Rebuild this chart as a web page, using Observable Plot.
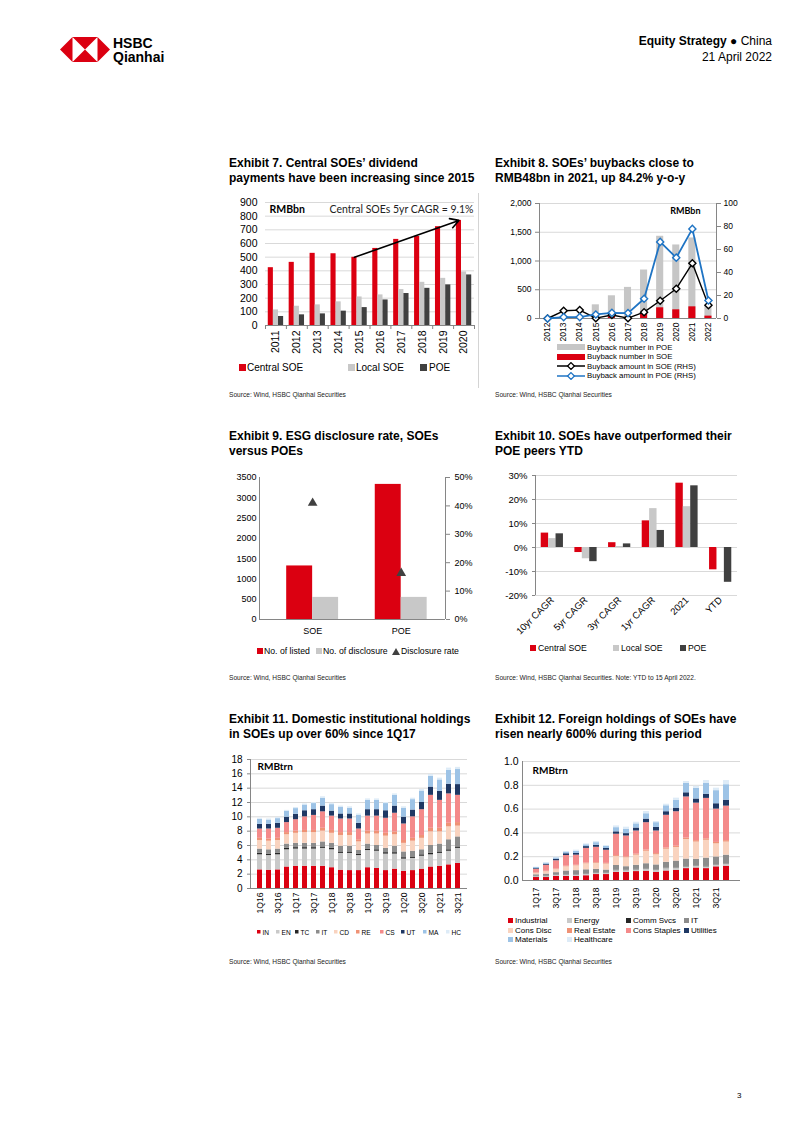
<!DOCTYPE html>
<html><head><meta charset="utf-8"><title>HSBC Qianhai – Equity Strategy China</title>
<script src="https://cdn.jsdelivr.net/npm/d3@7"></script>
<script src="https://cdn.jsdelivr.net/npm/@observablehq/plot@0.6"></script>
<style>
 html,body{margin:0;padding:0;background:#fff;}
 #page{position:relative;width:802px;height:1133px;overflow:hidden;background:#fff;font-family:"Liberation Sans",Arial,Helvetica,sans-serif;color:#000;}
 .title{position:absolute;font-weight:bold;font-size:12px;line-height:15px;white-space:nowrap;}
 .source{position:absolute;font-size:6.6px;line-height:8px;color:#222;white-space:nowrap;}
 .lg{position:absolute;display:flex;align-items:center;white-space:nowrap;height:12px;}
 .lg svg{display:block;flex:none;}
</style></head>
<body><div id="page"></div>
<script>
// ---------------- DATA ----------------
// Exhibit 7 (RMBbn)
const years7 = ["2011","2012","2013","2014","2015","2016","2017","2018","2019","2020"];
const central7 = [423, 462, 528, 525, 499, 564, 630, 652, 723, 769];
const local7   = [114, 141, 151, 173, 209, 224, 263, 316, 345, 392];
const poe7     = [66, 78, 85, 105, 131, 187, 234, 272, 297, 370];
const ticks7   = [0,100,200,300,400,500,600,700,800,900];
const note7    = "Central SOEs 5yr CAGR = 9.1%";

// Exhibit 8
const years8  = ["2012","2013","2014","2015","2016","2017","2018","2019","2020","2021","2022"];
const poeNum8 = [0, 0, 0, 238, 395, 541, 843, 1430, 1279, 1401, 230];
const soeNum8 = [0, 0, 0, 6, 30, 10, 99, 186, 151, 203, 41];
const soeAmt8 = [0, 6.7, 7.3, 0.3, 3.0, 0.3, 5.5, 15.4, 25.9, 48.0, 11.6];
const poeAmt8 = [0, 1.2, 1.2, 3.5, 4.9, 4.7, 17.2, 66.6, 52.9, 77.9, 15.7];
const leftTicks8  = [0, 500, 1000, 1500, 2000];
const rightTicks8 = [0, 20, 40, 60, 80, 100];

// Exhibit 9
const cats9      = ["SOE", "POE"];
const listed9    = [1320, 3330];
const disclosed9 = [545, 545];
const rate9      = [0.41, 0.163];
const ticks9     = [0,500,1000,1500,2000,2500,3000,3500];
const pctTicks9  = [0, 0.1, 0.2, 0.3, 0.4, 0.5];

// Exhibit 10
const cats10    = ["10yr CAGR", "5yr CAGR", "3yr CAGR", "1yr CAGR", "2021", "YTD"];
const central10 = [0.060, -0.021, 0.020, 0.111, 0.268, -0.093];
const local10   = [0.037, -0.047, 0.004, 0.162, 0.170, -0.003];
const poe10     = [0.057, -0.059, 0.015, 0.071, 0.257, -0.145];
const ticks10   = [-0.2, -0.1, 0, 0.1, 0.2, 0.3];

// Exhibit 11 (RMBtrn), 1Q16..3Q21
const quarters11 = ["1Q16","2Q16","3Q16","4Q16","1Q17","2Q17","3Q17","4Q17","1Q18","2Q18","3Q18","4Q18","1Q19","2Q19","3Q19","4Q19","1Q20","2Q20","3Q20","4Q20","1Q21","2Q21","3Q21"];
const sectors11 = ["IN","EN","TC","IT","CD","RE","CS","UT","MA","HC"];
const in11 = [2.6,2.55,2.6,3.0,3.1,3.1,3.1,3.1,2.9,2.55,2.5,2.5,2.9,2.8,2.5,2.7,2.4,2.5,2.7,3.0,3.1,3.3,3.5];
const en11 = [2.1,2.05,2.1,2.4,2.4,2.4,2.4,2.5,2.5,2.35,2.4,2.1,2.4,2.4,2.3,2.1,1.7,1.7,1.8,1.7,1.8,1.9,2.1];
const tc11 = [0.2,0.2,0.2,0.2,0.2,0.2,0.2,0.2,0.2,0.2,0.2,0.2,0.2,0.2,0.2,0.2,0.2,0.2,0.2,0.2,0.2,0.2,0.2];
const it11 = [0.6,0.6,0.6,0.6,0.6,0.6,0.6,0.7,0.7,0.8,0.8,0.5,0.7,0.6,0.6,0.9,0.8,0.8,0.7,1.1,1.1,1.4,1.4];
const cd11 = [1.2,1.2,1.2,1.3,1.4,1.5,1.5,1.5,1.4,1.5,1.5,1.2,1.4,1.6,1.7,1.6,1.2,1.4,1.6,1.9,1.7,1.8,1.5];
const re11 = [0.3,0.3,0.3,0.3,0.3,0.3,0.3,0.4,0.4,0.4,0.4,0.3,0.4,0.4,0.4,0.4,0.4,0.4,0.4,0.5,0.5,0.5,0.5];
const cs11 = [1.3,1.4,1.4,1.4,1.6,1.9,2.1,2.3,2.0,1.9,1.9,1.5,2.1,2.1,2.1,2.6,2.3,3.0,3.6,4.6,3.9,4.1,3.8];
const ut11 = [0.65,0.65,0.7,0.75,0.75,0.85,0.8,0.8,0.7,0.7,0.7,0.8,0.9,0.9,1.05,1.0,0.95,0.95,1.0,1.15,1.25,1.35,1.5];
const ma11 = [0.7,0.6,0.65,0.8,0.8,0.8,0.85,1.1,0.9,0.9,0.8,1.1,1.3,1.3,1.0,1.5,1.25,1.45,1.6,1.5,1.6,1.95,2.1];
const hc11 = [0.15,0.15,0.15,0.15,0.15,0.15,0.15,0.2,0.2,0.2,0.2,0.2,0.2,0.2,0.15,0.2,0.2,0.2,0.2,0.25,0.25,0.3,0.3];
const ticks11 = [0,2,4,6,8,10,12,14,16,18];

// Exhibit 12 (RMBtrn), 1Q17..4Q21
const quarters12 = ["1Q17","2Q17","3Q17","4Q17","1Q18","2Q18","3Q18","4Q18","1Q19","2Q19","3Q19","4Q19","1Q20","2Q20","3Q20","4Q20","1Q21","2Q21","3Q21","4Q21"];
const sectors12 = ["Industrial","Energy","Comm Svcs","IT","Cons Disc","Real Estate","Cons Staples","Utilities","Materials","Healthcare"];
const ind12 = [.025,.025,.035,.035,.035,.040,.050,.050,.068,.068,.075,.078,.068,.080,.085,.100,.105,.100,.115,.120];
const ene12 = [.008,.008,.008,.010,.010,.012,.010,.010,.015,.015,.015,.020,.020,.020,.020,.012,.015,.015,.015,.020];
const com12 = [.003,.003,.003,.003,.003,.003,.003,.003,.003,.003,.003,.003,.003,.003,.003,.003,.003,.003,.003,.003];
const it12  = [.012,.018,.020,.032,.035,.035,.030,.025,.040,.030,.035,.040,.040,.050,.055,.065,.055,.070,.065,.070];
const cdi12 = [.012,.020,.025,.035,.040,.050,.050,.050,.075,.075,.085,.105,.085,.110,.115,.165,.145,.150,.110,.110];
const rea12 = [.004,.004,.005,.005,.005,.006,.006,.006,.008,.008,.008,.010,.010,.010,.010,.012,.012,.012,.012,.012];
const cst12 = [.030,.050,.070,.090,.085,.124,.130,.110,.180,.175,.195,.230,.190,.275,.290,.345,.315,.340,.280,.290];
const uti12 = [.006,.008,.012,.015,.014,.015,.017,.015,.020,.020,.025,.030,.030,.030,.030,.035,.035,.035,.045,.050];
const mat12 = [.009,.010,.012,.014,.018,.015,.022,.018,.035,.035,.035,.045,.040,.050,.065,.080,.090,.090,.110,.130];
const hea12 = [.003,.005,.006,.005,.010,.008,.010,.007,.015,.019,.014,.019,.010,.013,.019,.015,.016,.025,.021,.035];
const ticks12 = [0, 0.2, 0.4, 0.6, 0.8, 1.0];

// ---------------- STYLE ----------------
const FONT = '"Liberation Sans", Arial, Helvetica, sans-serif';
const CAL = 'Lato, "Open Sans", sans-serif';
const RED = "#DB0011", LGREY = "#C8C8C8", DGREY = "#404040", GRID = "#D9D9D9", AXIS = "#868686", BLUE = "#1F74C4";
const colors11 = [RED, "#C9C9C9", "#262626", "#8C8C8C", "#F9D3BF", "#EF9275", "#F48A8A", "#1F3864", "#9DC3E6", "#DDEBF7"];

const page = document.getElementById("page");
function place(node, left, top) {
  node.style.position = "absolute"; node.style.left = left + "px"; node.style.top = top + "px";
  page.appendChild(node); return node;
}
function html(h, left, top, cls, css) {
  const d = document.createElement("div"); if (cls) d.className = cls; d.innerHTML = h;
  if (css) d.style.cssText = css; return place(d, left, top);
}
function st(fs) { return {fontFamily: FONT, fontSize: fs + "px", background: "transparent", overflow: "visible", color: "#000"}; }
const sq = (c, w, h) => `<svg width="${w}" height="${h || w}"><rect width="${w}" height="${h || w}" fill="${c}"/></svg>`;
const lineSw = c => `<svg width="28" height="8"><line x1="0" y1="4" x2="28" y2="4" stroke="${c}" stroke-width="1.5"/><path d="M14,0.6 L17.4,4 L14,7.4 L10.6,4Z" fill="#fff" stroke="${c}" stroke-width="1.3"/></svg>`;
const triSw = c => `<svg width="8" height="7"><path d="M4,0 L8,7 L0,7Z" fill="${c}"/></svg>`;
function lg(x, cy, sw, label, fs, gap) {
  const d = document.createElement("div"); d.className = "lg";
  d.style.left = x + "px"; d.style.top = (cy - 6) + "px"; d.style.fontSize = fs + "px";
  d.innerHTML = sw + `<span style="margin-left:${gap}px">${label}</span>`;
  page.appendChild(d);
}

// ---------------- HEADER ----------------
html(`<svg width="50" height="25" viewBox="0 0 50 25">
  <polygon points="0,12.5 12.5,0 37.5,0 50,12.5 37.5,25 12.5,25" fill="${RED}"/>
  <polygon points="12.5,0 25,12.5 12.5,25" fill="#fff"/>
  <polygon points="37.5,0 25,12.5 37.5,25" fill="#fff"/></svg>`, 60, 37, null, "line-height:0");
html("HSBC<br>Qianhai", 113, 36, null, "font-weight:bold;font-size:14px;line-height:14px;");
html(`<div style="text-align:right"><b>Equity Strategy</b> ● China<br>21 April 2022</div>`, 572, 33, null, "width:200px;font-size:12px;line-height:16px;");
html("3", 737, 1091, null, "font-size:8px;");

// ---------------- TITLES & SOURCES ----------------
const SRC = "Source: Wind, HSBC Qianhai Securities";
html("Exhibit 7. Central SOEs’ dividend<br>payments have been increasing since 2015", 229, 156, "title");
html("Exhibit 8. SOEs’ buybacks close to<br>RMB48bn in 2021, up 84.2% y-o-y", 495, 156, "title");
html("Exhibit 9. ESG disclosure rate, SOEs<br>versus POEs", 229, 429, "title");
html("Exhibit 10. SOEs have outperformed their<br>POE peers YTD", 495, 429, "title");
html("Exhibit 11. Domestic institutional holdings<br>in SOEs up over 60% since 1Q17", 229, 712, "title");
html("Exhibit 12. Foreign holdings of SOEs have<br>risen nearly 600% during this period", 495, 712, "title");
html(SRC, 229, 391, "source");
html(SRC, 495, 391, "source");
html(SRC, 229, 674, "source");
html(SRC + ". Note: YTD to 15 April 2022.", 495, 674, "source");
html(SRC, 229, 958, "source");
html(SRC, 495, 958, "source");
html("", 478, 193, null, "width:1px;height:195px;background:#D4D4D4;");

// ---------------- EXHIBIT 7 ----------------
{
  const n = years7.length, G = 0.245, idx = d3.range(n);
  const series = [[central7, RED], [local7, LGREY], [poe7, DGREY]];
  const i15 = years7.indexOf("2015"), i20 = years7.indexOf("2020");
  const arrow7 = [{x1: i15 - G, y1: central7[i15], x2: i20 - G, y2: central7[i20]}];
  place(Plot.plot({
    width: 252, height: 165, marginLeft: 37, marginRight: 6, marginTop: 7, marginBottom: 35,
    style: st(10.5),
    x: {domain: [-0.5, n - 0.5]},
    y: {domain: [0, 900]},
    marks: [
      Plot.ruleY(ticks7.filter(t => t > 0), {stroke: GRID}),
      ...series.map(([vals, color], k) => Plot.rect(idx, {x1: i => i + (k - 1.5) * G, x2: i => i + (k - 0.5) * G, y1: 0, y2: i => vals[i], fill: color})),
      Plot.ruleY([0], {stroke: AXIS}),
      Plot.ruleX(d3.range(n + 1).map(i => i - 0.5), {y1: 0, y2: 0, insetBottom: -4, stroke: AXIS}),
      Plot.arrow(arrow7, {x1: "x1", y1: "y1", x2: "x2", y2: "y2", stroke: "#000", strokeWidth: 1.6, headLength: 9}),
      Plot.axisY({ticks: ticks7, tickFormat: d => String(d), tickSize: 0, tickPadding: 8, label: null}),
      Plot.axisX({ticks: idx, tickFormat: i => years7[i], tickRotate: -90, tickSize: 0, tickPadding: 5, label: null}),
      Plot.text(["RMBbn"], {text: d => d, frameAnchor: "top-left", dx: 4, dy: 3, fontWeight: "bold", fontFamily: CAL, fontSize: 10.5}),
      Plot.text([note7], {text: d => d, frameAnchor: "top-right", dx: -1, dy: 3, fontFamily: CAL, fontSize: 10.5, fill: "#222"})
    ]
  }), 228, 195);
  lg(239, 367, sq(RED, 7), "Central SOE", 10, 1);
  lg(348, 367, sq(LGREY, 7), "Local SOE", 10, 1);
  lg(420, 367, sq(DGREY, 7), "POE", 10, 2);
}

// ---------------- EXHIBIT 8 ----------------
{
  const n = years8.length, W = 0.22, idx = d3.range(n);
  const R = leftTicks8[leftTicks8.length - 1] / rightTicks8[rightTicks8.length - 1];
  place(Plot.plot({
    width: 250, height: 150, marginLeft: 46, marginRight: 27, marginTop: 8, marginBottom: 27,
    style: st(8.5),
    x: {domain: [-0.5, n - 0.5]},
    y: {domain: [0, 2000]},
    marks: [
      Plot.ruleY(leftTicks8.filter(t => t > 0), {stroke: GRID}),
      Plot.rect(idx, {x1: i => i - W, x2: i => i + W, y1: 0, y2: i => poeNum8[i], fill: "#C6C6C6"}),
      Plot.rect(idx, {x1: i => i - W, x2: i => i + W, y1: 0, y2: i => soeNum8[i], fill: RED}),
      Plot.ruleY([0], {stroke: AXIS}),
      Plot.ruleX([-0.5, n - 0.5], {stroke: AXIS}),
      Plot.line(idx, {x: i => i, y: i => soeAmt8[i] * R, stroke: "#000", strokeWidth: 1.4}),
      Plot.dot(idx, {x: i => i, y: i => soeAmt8[i] * R, symbol: "diamond2", r: 3.2, fill: "#fff", stroke: "#000", strokeWidth: 1.4}),
      Plot.line(idx, {x: i => i, y: i => poeAmt8[i] * R, stroke: BLUE, strokeWidth: 1.8}),
      Plot.dot(idx, {x: i => i, y: i => poeAmt8[i] * R, symbol: "diamond2", r: 3.2, fill: "#fff", stroke: BLUE, strokeWidth: 1.4}),
      Plot.axisY({ticks: leftTicks8, tickFormat: d3.format(","), tickSize: 4, tickPadding: 4, stroke: AXIS, label: null}),
      Plot.axisY({anchor: "right", ticks: rightTicks8.map(t => t * R), tickFormat: d => String(d / R), tickSize: 4, tickPadding: 3, stroke: AXIS, label: null}),
      Plot.axisX({ticks: idx, tickFormat: i => years8[i], tickRotate: -90, tickSize: 0, tickPadding: 4, label: null}),
      Plot.text(["RMBbn"], {text: d => d, frameAnchor: "top-right", dx: -16, dy: 4, fontWeight: "bold", fontFamily: CAL, fontSize: 9})
    ]
  }), 493, 195);
  lg(557, 347, sq("#C6C6C6", 28, 6), "Buyback number in POE", 7.8, 2);
  lg(557, 356.5, sq(RED, 28, 6), "Buyback number in SOE", 7.8, 2);
  lg(557, 366, lineSw("#000"), "Buyback amount in SOE (RHS)", 7.8, 2);
  lg(557, 375.5, lineSw(BLUE), "Buyback amount in POE (RHS)", 7.8, 2);
}

// ---------------- EXHIBIT 9 ----------------
{
  const n = cats9.length, W = 0.293, idx = d3.range(n);
  const R = ticks9[ticks9.length - 1] / pctTicks9[pctTicks9.length - 1];
  const xd = [-0.6, n - 0.5];
  place(Plot.plot({
    width: 252, height: 170, marginLeft: 31, marginRight: 35, marginTop: 7, marginBottom: 21,
    style: st(9),
    x: {domain: xd},
    y: {domain: [0, 3500]},
    marks: [
      Plot.rect(idx, {x1: i => i - W, x2: i => i, y1: 0, y2: i => listed9[i], fill: RED}),
      Plot.rect(idx, {x1: i => i, x2: i => i + W, y1: 0, y2: i => disclosed9[i], fill: LGREY}),
      Plot.dot(idx, {x: i => i, y: i => rate9[i] * R, symbol: "triangle", r: 3.6, fill: DGREY}),
      Plot.ruleY([0], {stroke: AXIS}),
      Plot.ruleX(xd, {stroke: AXIS}),
      Plot.axisY({ticks: ticks9, tickFormat: d => String(d), tickSize: 0, tickPadding: 3, label: null}),
      Plot.axisY({anchor: "right", ticks: pctTicks9.map(p => p * R), tickFormat: d => Math.round(d / R * 100) + "%", tickSize: 4, tickPadding: 5, stroke: AXIS, label: null}),
      Plot.axisX({ticks: idx, tickFormat: i => cats9[i], tickSize: 0, tickPadding: 8, label: null})
    ]
  }), 228, 470);
  lg(257, 651, sq(RED, 6), "No. of listed", 8.7, 1);
  lg(316, 651, sq(LGREY, 6), "No. of disclosure", 8.7, 1);
  lg(392, 651, triSw(DGREY), "Disclosure rate", 8.7, 1);
}

// ---------------- EXHIBIT 10 ----------------
{
  const n = cats10.length, G = 0.22, idx = d3.range(n);
  const series = [[central10, RED], [local10, LGREY], [poe10, DGREY]];
  const pct = d => Math.round(d * 100) + "%";
  place(Plot.plot({
    width: 250, height: 175, marginLeft: 42, marginRight: 6, marginTop: 7, marginBottom: 48,
    style: st(9.5),
    x: {domain: [-0.5, n - 0.5]},
    y: {domain: [-0.2, 0.3]},
    marks: [
      Plot.ruleY(ticks10, {stroke: GRID}),
      ...series.map(([vals, color], k) => Plot.rect(idx, {x1: i => i + (k - 1.5) * G, x2: i => i + (k - 0.5) * G, y1: 0, y2: i => vals[i], fill: color})),
      Plot.ruleX([-0.5], {stroke: AXIS}),
      Plot.axisY({ticks: ticks10, tickFormat: pct, tickSize: 3, tickPadding: 5, stroke: AXIS, label: null}),
      Plot.axisX({ticks: idx, tickFormat: i => cats10[i], tickRotate: -45, tickSize: 0, tickPadding: 3, label: null})
    ]
  }), 493, 468);
  lg(530, 648, sq(RED, 6), "Central SOE", 8.7, 2);
  lg(613, 648, sq(LGREY, 6), "Local SOE", 8.7, 2);
  lg(680, 648, sq(DGREY, 6), "POE", 8.7, 2);
}

// ---------------- EXHIBIT 11 ----------------
{
  const vals = [in11, en11, tc11, it11, cd11, re11, cs11, ut11, ma11, hc11];
  const rows = sectors11.flatMap((s, k) => vals[k].map((v, i) => ({q: quarters11[i], s, v})));
  place(Plot.plot({
    width: 247, height: 165, marginLeft: 22, marginRight: 8, marginTop: 7, marginBottom: 29,
    style: st(10),
    x: {domain: quarters11, paddingInner: 0.45, paddingOuter: 0.2},
    y: {domain: [0, 18]},
    color: {domain: sectors11, range: colors11},
    marks: [
      Plot.ruleY(ticks11.filter(t => t > 0), {stroke: GRID}),
      Plot.barY(rows, {x: "q", y: "v", fill: "s"}),
      Plot.ruleY([0], {stroke: AXIS}),
      Plot.frame({anchor: "left", stroke: AXIS}),
      Plot.axisY({ticks: ticks11, tickSize: 3, tickPadding: 5, stroke: AXIS, label: null}),
      Plot.axisX({ticks: quarters11.filter((d, i) => i % 2 === 0), tickRotate: -90, tickSize: 0, tickPadding: 4, fontSize: 8.6, label: null}),
      Plot.text(["RMBtrn"], {text: d => d, frameAnchor: "top-left", dx: 7, dy: 3, fontWeight: "bold", fontFamily: CAL, fontSize: 10})
    ]
  }), 228, 752);
  const xs = [257, 276, 295, 316, 334, 356, 380, 401, 423, 446];
  sectors11.forEach((s, k) => lg(xs[k], 932, sq(colors11[k], 3.5), s, 6.6, 2));
}

// ---------------- EXHIBIT 12 ----------------
{
  const vals = [ind12, ene12, com12, it12, cdi12, rea12, cst12, uti12, mat12, hea12];
  const rows = sectors12.flatMap((s, k) => vals[k].map((v, i) => ({q: quarters12[i], s, v})));
  place(Plot.plot({
    width: 260, height: 163, marginLeft: 29, marginRight: 13, marginTop: 9, marginBottom: 35,
    style: st(10.5),
    x: {domain: quarters12, paddingInner: 0.38, paddingOuter: 0.2},
    y: {domain: [0, 1]},
    color: {domain: sectors12, range: colors11},
    marks: [
      Plot.ruleY(ticks12.filter(t => t > 0), {stroke: GRID}),
      Plot.barY(rows, {x: "q", y: "v", fill: "s"}),
      Plot.ruleY([0], {stroke: AXIS}),
      Plot.frame({anchor: "left", stroke: AXIS}),
      Plot.axisY({ticks: ticks12, tickFormat: d3.format(".1f"), tickSize: 0, tickPadding: 4, label: null}),
      Plot.axisX({ticks: quarters12.filter((d, i) => i % 2 === 0), tickRotate: -90, tickSize: 0, tickPadding: 7, fontSize: 8.6, label: null}),
      Plot.text(["RMBtrn"], {text: d => d, frameAnchor: "top-left", dx: 10, dy: 5, fontWeight: "bold", fontFamily: CAL, fontSize: 10})
    ]
  }), 493, 752);
  const colX = [508, 567, 626, 684], rowY = [920.5, 930.3, 939.8];
  sectors12.forEach((s, k) => lg(colX[k % 4], rowY[Math.floor(k / 4)], sq(colors11[k], 5), s, 8, 2));
}
</script></body></html>
